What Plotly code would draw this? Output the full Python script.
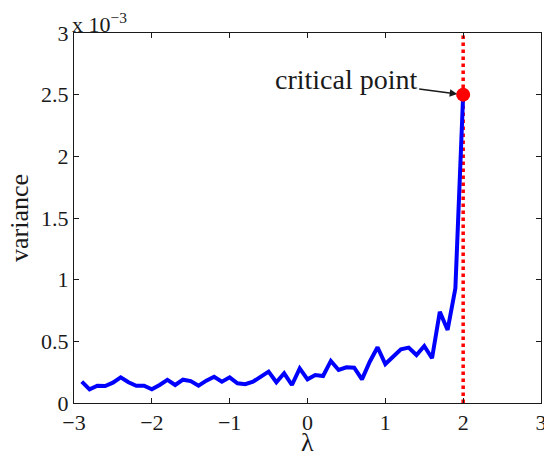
import plotly.graph_objects as go

lam = [round(-2.9 + 0.1 * i, 1) for i in range(50)]
variance_e3 = [0.173, 0.111, 0.140, 0.138, 0.165, 0.208, 0.168, 0.140, 0.140, 0.111,
               0.146, 0.187, 0.146, 0.189, 0.178, 0.140, 0.181, 0.213, 0.173, 0.208,
               0.160, 0.152, 0.173, 0.213, 0.254, 0.168, 0.241, 0.146, 0.281, 0.192,
               0.227, 0.219, 0.341, 0.268, 0.289, 0.286, 0.192, 0.335, 0.452, 0.316,
               0.376, 0.436, 0.449, 0.389, 0.462, 0.363, 0.740, 0.592, 0.930, 2.500]
critical_x = 2.0
critical_y = 2.5
x_ticks = [-3, -2, -1, 0, 1, 2, 3]
x_tick_text = ["−3", "−2", "−1", "0", "1", "2", "3"]
y_ticks = [0, 0.5, 1, 1.5, 2, 2.5, 3]
y_tick_text = ["0", "0.5", "1", "1.5", "2", "2.5", "3"]

font = "Liberation Serif"
ink = "#1a1a1a"

fig = go.Figure()
fig.add_trace(go.Scatter(x=[critical_x, critical_x], y=[0, 3], mode="lines",
                         line=dict(color="red", width=3.5, dash="dot"), showlegend=False))
fig.add_trace(go.Scatter(x=lam, y=variance_e3, mode="lines",
                         line=dict(color="blue", width=4), showlegend=False))
fig.add_trace(go.Scatter(x=[critical_x], y=[critical_y], mode="markers",
                         marker=dict(color="red", size=14), showlegend=False))

fig.add_annotation(x=critical_x, y=critical_y, xref="x", yref="y",
                   text="critical point", showarrow=True, ax=-117, ay=-15,
                   arrowhead=2, arrowsize=1, arrowwidth=1.5, arrowcolor=ink,
                   standoff=6, font=dict(family=font, size=28, color=ink))
fig.add_annotation(x=0, y=1, xref="paper", yref="paper", xanchor="left", yanchor="bottom",
                   text="x 10<sup>−3</sup>", showarrow=False, yshift=-6, xshift=-4,
                   font=dict(family=font, size=22, color=ink))
fig.add_annotation(x=0.5, y=0, xref="paper", yref="paper", xanchor="center", yanchor="middle",
                   text="λ", showarrow=False, yshift=-39,
                   font=dict(family=font, size=26, color=ink))

axis_common = dict(showgrid=False, zeroline=False, showline=True, linecolor=ink,
                   linewidth=1, mirror="ticks", ticks="inside", ticklen=5,
                   tickcolor=ink, ticklabeloverflow="allow", automargin=False,
                   tickfont=dict(family=font, size=22, color=ink))
fig.update_xaxes(range=[-3, 3], tickvals=x_ticks, ticktext=x_tick_text, **axis_common)
fig.update_yaxes(range=[0, 3], tickvals=y_ticks, ticktext=y_tick_text,
                 title=dict(text="variance", font=dict(family=font, size=26, color=ink), standoff=4),
                 **axis_common)
fig.update_layout(width=544, height=456, margin=dict(l=74, r=3, t=33, b=53),
                  plot_bgcolor="white", paper_bgcolor="white")
fig.write_html("out.html")
